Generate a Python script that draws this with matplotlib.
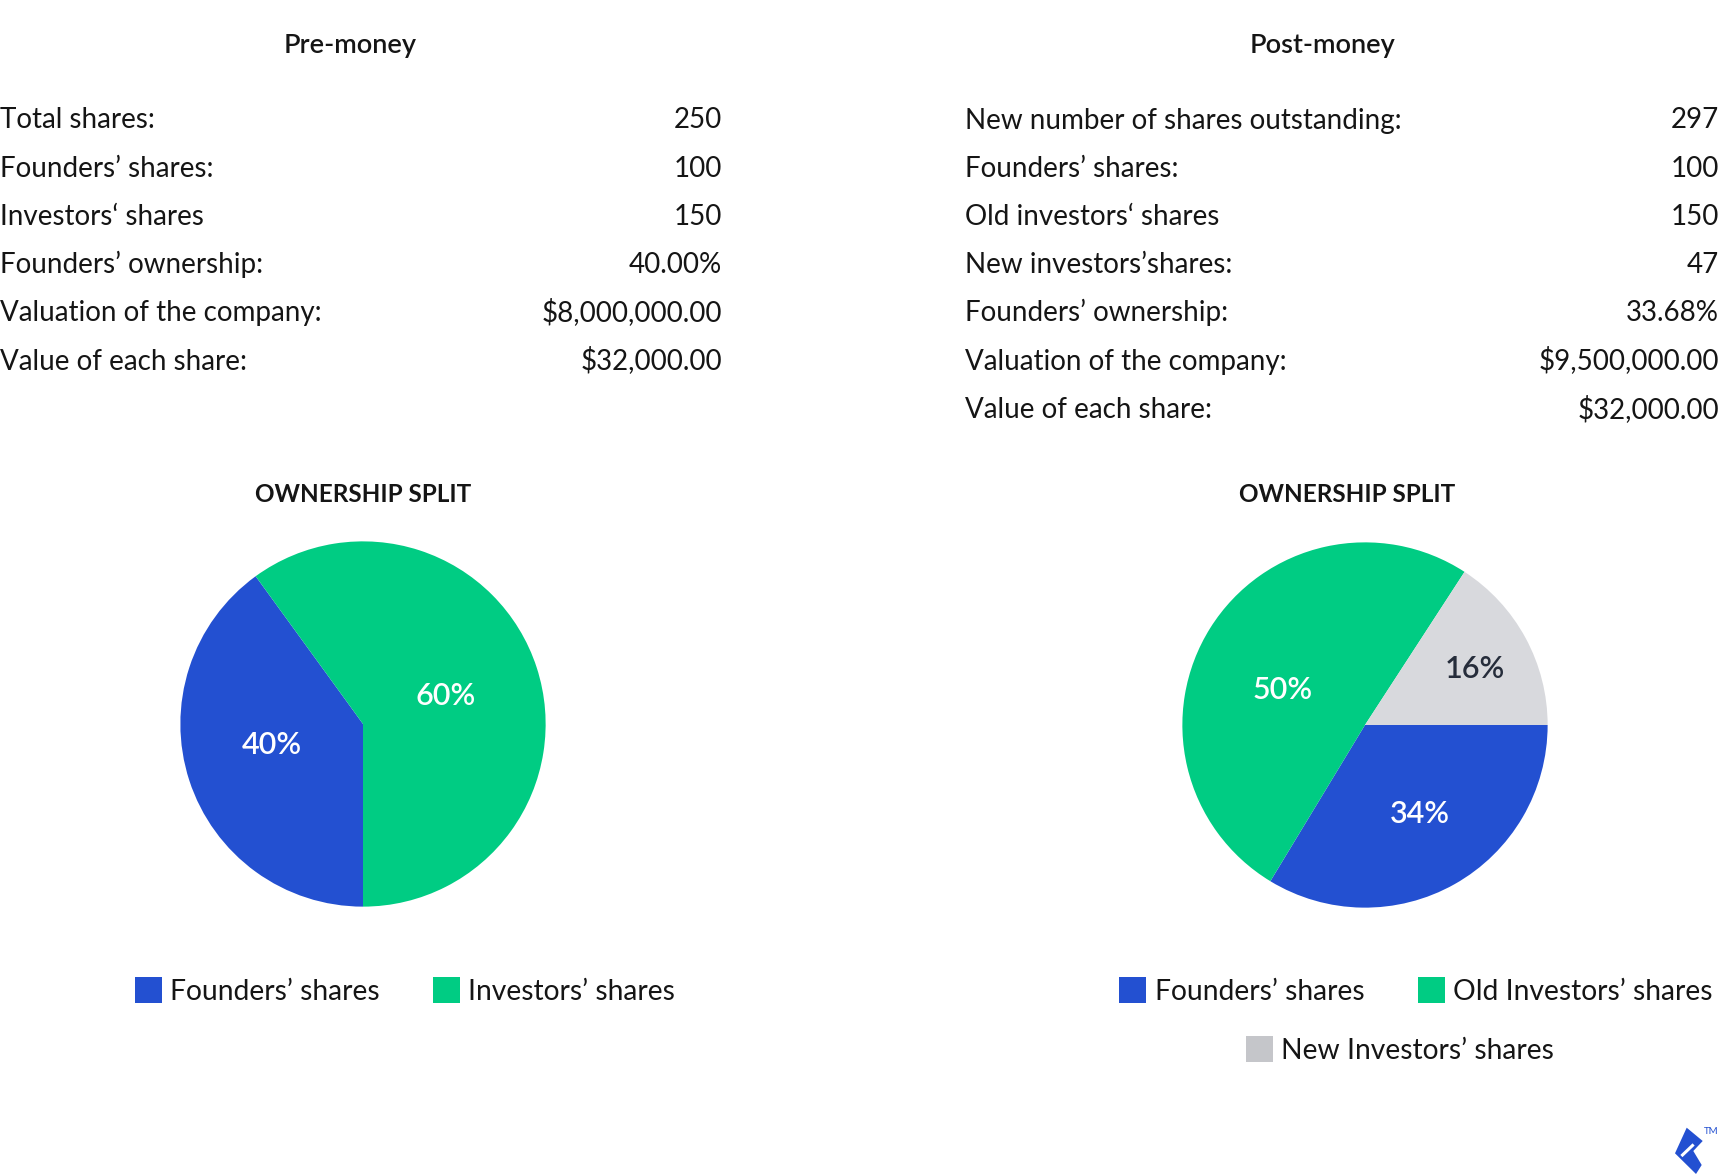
import numpy as np
import matplotlib
matplotlib.use("Agg")
import matplotlib.pyplot as plt
from matplotlib.patches import Patch, Polygon

# table data
pre_labels = ["Total shares:", "Founders’ shares:", "Investors‘ shares",
              "Founders’ ownership:", "Valuation of the company:", "Value of each share:"]
pre_values = ["250", "100", "150", "40.00%", "$8,000,000.00", "$32,000.00"]

post_labels = ["New number of shares outstanding:", "Founders’ shares:", "Old investors‘ shares",
               "New investors’shares:", "Founders’ ownership:", "Valuation of the company:",
               "Value of each share:"]
post_values = ["297", "100", "150", "47", "33.68%", "$9,500,000.00", "$32,000.00"]

# pie data
pre_series = ["Founders’ shares", "Investors’ shares"]
pre_shares = [100, 150]
pre_pct = ["40%", "60%"]

post_series = ["Founders’ shares", "Old Investors’ shares", "New Investors’ shares"]
post_shares = [100, 150, 47]
post_pct = ["34%", "50%", "16%"]

BLUE = "#2350d1"
GREEN = "#00cc83"
GREY = "#d8d9dd"
GREY_LEG = "#c5c6ca"
TXT = "#151515"

W, H = 1720, 1174
def fx(x):
    return x / W
def fy(y):
    return 1 - y / H

plt.rcParams["font.family"] = ["Lato", "DejaVu Sans"]
fig = plt.figure(figsize=(17.2, 11.74), dpi=100)

# headings
fig.text(fx(350), fy(46), "Pre-money", ha="center", va="center",
         fontsize=19.5, fontweight="semibold", color=TXT)
fig.text(fx(1322), fy(46), "Post-money", ha="center", va="center",
         fontsize=19.5, fontweight="semibold", color=TXT)

# tables (baseline aligned)
FS = 20
base0, step = 128.5, 48.2
for i, (lab, val) in enumerate(zip(pre_labels, pre_values)):
    y = fy(base0 + i * step)
    fig.text(0, y, lab, ha="left", va="baseline", fontsize=FS, color=TXT)
    fig.text(fx(722), y, val, ha="right", va="baseline", fontsize=FS, color=TXT)
for i, (lab, val) in enumerate(zip(post_labels, post_values)):
    y = fy(base0 + i * step)
    fig.text(fx(965), y, lab, ha="left", va="baseline", fontsize=FS, color=TXT)
    fig.text(fx(1719), y, val, ha="right", va="baseline", fontsize=FS, color=TXT)

fig.text(fx(363), fy(494), "OWNERSHIP SPLIT", ha="center", va="center",
         fontsize=17.5, fontweight="bold", color=TXT)
fig.text(fx(1347), fy(494), "OWNERSHIP SPLIT", ha="center", va="center",
         fontsize=17.5, fontweight="bold", color=TXT)


def draw_pie(cx, cy, shares, colors, pct, pct_colors, dists, tweaks, start):
    r = 183
    ax = fig.add_axes([fx(cx - r), fy(cy + r), 2 * r / W, 2 * r / H])
    wedges, _ = ax.pie(shares, colors=colors, startangle=start, counterclock=False,
                       radius=1, wedgeprops=dict(linewidth=0))
    ax.set_xlim(-1.002, 1.002)
    ax.set_ylim(-1.002, 1.002)
    ax.set_aspect("equal")
    for w, s, c, d, t in zip(wedges, pct, pct_colors, dists, tweaks):
        a = np.deg2rad((w.theta1 + w.theta2) / 2 + t)
        ax.text(d * np.cos(a), d * np.sin(a), s, ha="center", va="center",
                fontsize=22, fontweight="semibold", color=c)
    return ax


draw_pie(363, 724, pre_shares, [BLUE, GREEN], pre_pct, ["white", "white"],
         [0.515, 0.475], [-5, 0.5], 270)
draw_pie(1365, 725, post_shares, [BLUE, GREEN, GREY], post_pct,
         ["white", "white", "#262d3b"], [0.57, 0.49, 0.675], [2.3, 9, -1.5], 0)


def legend(labels, colors, cx, cy, ncol):
    handles = [Patch(facecolor=c, edgecolor="none", label=l) for l, c in zip(labels, colors)]
    leg = fig.legend(handles=handles, loc="center", bbox_to_anchor=(fx(cx), fy(cy)),
                     ncol=ncol, frameon=False, fontsize=20.3, handlelength=0.95,
                     handleheight=1.05, handletextpad=0.3, columnspacing=1.9,
                     borderpad=0, borderaxespad=0)
    for t in leg.get_texts():
        t.set_color(TXT)
    return leg


legend(pre_series, [BLUE, GREEN], 405, 991, 2)
legend(post_series[:2], [BLUE, GREEN], 1416, 991, 2)
legend(post_series[2:], [GREY_LEG], 1400, 1050, 1)

# small logo bottom right
logo = [(1686.7, 1127.7), (1702.7, 1141), (1693.3, 1151), (1701.7, 1165),
        (1696, 1174), (1675, 1153.3)]
fig.add_artist(Polygon([(fx(x), fy(y)) for x, y in logo], closed=True,
                       facecolor=BLUE, edgecolor="none", transform=fig.transFigure))
fig.add_artist(plt.Line2D([fx(1682.5), fx(1692.5)], [fy(1155), fy(1145.5)],
                          color="white", lw=2.2, transform=fig.transFigure))
fig.text(fx(1704), fy(1132), "TM", ha="left", va="center", fontsize=7, color=BLUE)

fig.savefig("out.png", dpi=100, facecolor="white")
